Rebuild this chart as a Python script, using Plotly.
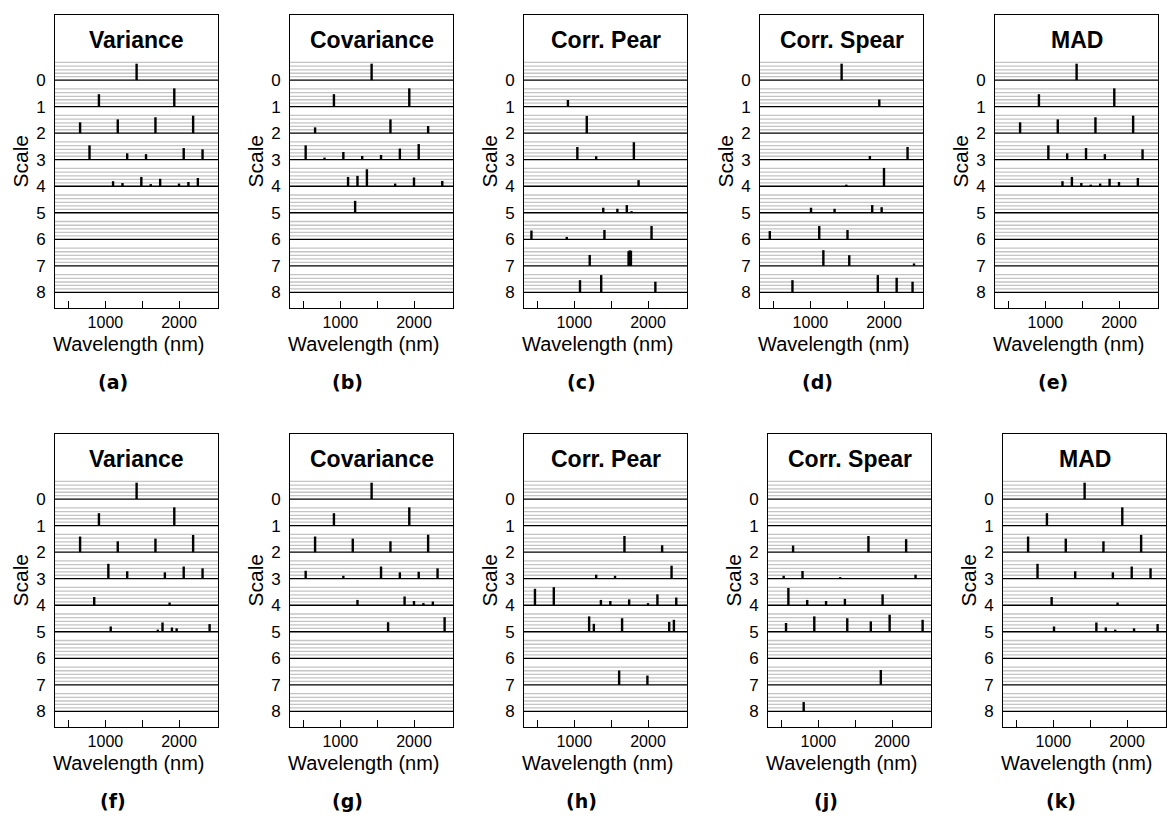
import plotly.graph_objects as go

# ---------------- data ----------------
TITLES = ["Variance", "Covariance", "Corr. Pear", "Corr. Spear", "MAD",
          "Variance", "Covariance", "Corr. Pear", "Corr. Spear", "MAD"]
CAPTIONS = ["(a)", "(b)", "(c)", "(d)", "(e)", "(f)", "(g)", "(h)", "(j)", "(k)"]
SCALE_TICKS = [0, 1, 2, 3, 4, 5, 6, 7, 8]
WL_TICKS = [500, 1000, 1500, 2000]
WL_TICKTEXT = ["", "1000", "", "2000"]

a_scale = [0, 1, 1, 2, 2, 2, 2, 3, 3, 3, 3, 3, 4, 4, 4, 4, 4, 4, 4, 4]
a_wl = [1424, 912, 1936, 656, 1168, 1680, 2192, 784, 1296, 1552, 2064, 2320,
        1104, 1232, 1488, 1616, 1744, 2000, 2128, 2256]
a_h = [0.62, 0.47, 0.69, 0.41, 0.52, 0.6, 0.66, 0.54, 0.24, 0.21, 0.44, 0.39,
       0.19, 0.12, 0.35, 0.08, 0.28, 0.1, 0.16, 0.31]

b_scale = [0, 1, 1, 2, 2, 2, 3, 3, 3, 3, 3, 3, 3, 4, 4, 4, 4, 4, 4, 5]
b_wl = [1424, 912, 1936, 656, 1680, 2192, 528, 784, 1040, 1296, 1552, 1808, 2064,
        1104, 1232, 1360, 1744, 2000, 2384, 1200]
b_h = [0.62, 0.47, 0.69, 0.22, 0.52, 0.27, 0.54, 0.08, 0.29, 0.14, 0.18, 0.42, 0.59,
       0.35, 0.39, 0.64, 0.1, 0.33, 0.2, 0.45]

c_scale = [1, 2, 3, 3, 3, 4, 5, 5, 5, 5, 6, 6, 6, 6, 7, 7, 7, 7, 8, 8, 8]
c_wl = [912, 1168, 1040, 1296, 1808, 1872, 1392, 1584, 1712, 1776, 416, 896, 1408, 2048,
        1208, 1736, 1752, 1768, 1076, 1364, 2100]
c_h = [0.25, 0.65, 0.48, 0.13, 0.66, 0.23, 0.19, 0.15, 0.29, 0.06, 0.33, 0.09, 0.35, 0.5,
       0.41, 0.55, 0.58, 0.57, 0.46, 0.65, 0.4]

d_scale = [0, 1, 3, 3, 4, 4, 5, 5, 5, 5, 6, 6, 6, 7, 7, 7, 8, 8, 8, 8]
d_wl = [1424, 1936, 1808, 2320, 1488, 2000, 1008, 1328, 1840, 1968, 448, 1120, 1504,
        1176, 1528, 2408, 756, 1916, 2172, 2388]
d_h = [0.62, 0.27, 0.14, 0.48, 0.06, 0.69, 0.19, 0.15, 0.29, 0.21, 0.31, 0.5, 0.35,
       0.59, 0.4, 0.09, 0.46, 0.65, 0.55, 0.4]

e_scale = [0, 1, 1, 2, 2, 2, 2, 3, 3, 3, 3, 3, 4, 4, 4, 4, 4, 4, 4, 4]
e_wl = [1424, 912, 1936, 656, 1168, 1680, 2192, 1040, 1296, 1552, 1808, 2320,
        1232, 1360, 1488, 1616, 1744, 1872, 2000, 2256]
e_h = [0.62, 0.47, 0.69, 0.41, 0.52, 0.6, 0.66, 0.54, 0.24, 0.44, 0.21, 0.39,
       0.19, 0.35, 0.12, 0.06, 0.1, 0.28, 0.16, 0.31]

f_scale = [0, 1, 1, 2, 2, 2, 2, 3, 3, 3, 3, 3, 4, 4, 5, 5, 5, 5, 5, 5]
f_wl = [1424, 912, 1936, 656, 1168, 1680, 2192, 1040, 1296, 1808, 2064, 2320, 848, 1872,
        1072, 1712, 1776, 1904, 1968, 2416]
f_h = [0.62, 0.47, 0.69, 0.59, 0.41, 0.51, 0.65, 0.56, 0.28, 0.24, 0.46, 0.39, 0.31, 0.1,
       0.2, 0.08, 0.35, 0.16, 0.13, 0.29]

g_scale = [0, 1, 1, 2, 2, 2, 2, 3, 3, 3, 3, 3, 3, 4, 4, 4, 4, 4, 5, 5]
g_wl = [1424, 912, 1936, 656, 1168, 1680, 2192, 528, 1040, 1552, 1808, 2064, 2320,
        1232, 1872, 2000, 2128, 2256, 1648, 2416]
g_h = [0.62, 0.47, 0.69, 0.59, 0.51, 0.41, 0.66, 0.3, 0.11, 0.46, 0.24, 0.26, 0.39,
       0.2, 0.33, 0.16, 0.08, 0.14, 0.36, 0.55]

h_scale = [2, 2, 3, 3, 3, 4, 4, 4, 4, 4, 4, 4, 4, 5, 5, 5, 5, 5, 7, 7]
h_wl = [1680, 2192, 1296, 1552, 2320, 464, 720, 1360, 1488, 1744, 2000, 2128, 2384,
        1200, 1264, 1648, 2288, 2352, 1608, 1992]
h_h = [0.61, 0.26, 0.15, 0.11, 0.49, 0.62, 0.68, 0.2, 0.16, 0.22, 0.08, 0.41, 0.29,
       0.58, 0.3, 0.51, 0.37, 0.45, 0.54, 0.35]

j_scale = [2, 2, 2, 3, 3, 3, 3, 4, 4, 4, 4, 4, 5, 5, 5, 5, 5, 5, 7, 8]
j_wl = [656, 1680, 2192, 528, 784, 1296, 2320, 592, 848, 1104, 1360, 1872,
        560, 944, 1392, 1712, 1968, 2416, 1848, 800]
j_h = [0.25, 0.61, 0.49, 0.11, 0.29, 0.06, 0.15, 0.65, 0.2, 0.16, 0.24, 0.41,
       0.33, 0.58, 0.51, 0.39, 0.64, 0.45, 0.56, 0.35]

k_scale = [0, 1, 1, 2, 2, 2, 2, 3, 3, 3, 3, 3, 4, 4, 5, 5, 5, 5, 5, 5]
k_wl = [1424, 912, 1936, 656, 1168, 1680, 2192, 784, 1296, 1808, 2064, 2320, 976, 1872,
        1008, 1584, 1712, 1840, 2096, 2416]
k_h = [0.62, 0.47, 0.69, 0.59, 0.51, 0.41, 0.65, 0.56, 0.28, 0.24, 0.46, 0.39, 0.31, 0.1,
       0.2, 0.35, 0.16, 0.08, 0.13, 0.29]

PANELS = [(a_scale, a_wl, a_h), (b_scale, b_wl, b_h), (c_scale, c_wl, c_h),
          (d_scale, d_wl, d_h), (e_scale, e_wl, e_h), (f_scale, f_wl, f_h),
          (g_scale, g_wl, g_h), (h_scale, h_wl, h_h), (j_scale, j_wl, j_h),
          (k_scale, k_wl, k_h)]

# ---------------- layout constants ----------------
W, H = 1167, 825
LEFTS = [55, 290, 524, 760, 995, 55, 290, 524, 768, 1003]
PW = 163
TOPS = [15, 434]
BOTS = [308, 727]
XRANGE = [315, 2530]
YRANGE = [8.59, -2.455]
GRAY_FRAC = [0.33, 0.47, 0.61, 0.74, 0.87]
FONT = "Liberation Sans, Arial, sans-serif"

fig = go.Figure()
layout = dict(width=W, height=H, margin=dict(l=0, r=0, t=0, b=0),
              paper_bgcolor="white", plot_bgcolor="white", showlegend=False)
shapes = []
annotations = []

for i, (sc, wl, hh) in enumerate(PANELS):
    n = i + 1
    row = 0 if i < 5 else 1
    xs = "" if n == 1 else str(n)
    left = LEFTS[i]
    right = left + PW
    top, bot = TOPS[row], BOTS[row]
    xd = [left / W, right / W]
    yd = [1 - bot / H, 1 - top / H]

    layout["xaxis" + xs] = dict(
        domain=xd, range=XRANGE, anchor="y" + xs, showgrid=False, zeroline=False,
        tickmode="array", tickvals=WL_TICKS, ticktext=WL_TICKTEXT,
        ticks="inside", ticklen=7, tickwidth=1, tickcolor="black",
        showline=True, mirror=True, linecolor="black", linewidth=1,
        tickfont=dict(family=FONT, size=16, color="black"))
    layout["yaxis" + xs] = dict(
        domain=yd, range=YRANGE, anchor="x" + xs, showgrid=False, zeroline=False,
        tickmode="array", tickvals=SCALE_TICKS,
        ticks="outside", ticklen=5, tickcolor="rgba(0,0,0,0)",
        showline=True, mirror=True, linecolor="black", linewidth=1,
        tickfont=dict(family=FONT, size=17, color="black"))

    xref = "x" + xs + " domain"
    yref = "y" + xs
    for j in SCALE_TICKS:
        for f in GRAY_FRAC:
            shapes.append(dict(type="line", xref=xref, yref=yref, x0=0, x1=1,
                               y0=j - 1 + f, y1=j - 1 + f, layer="below",
                               line=dict(color="#c4c4c4", width=1.3)))
        shapes.append(dict(type="line", xref=xref, yref=yref, x0=0, x1=1,
                           y0=j, y1=j, layer="below",
                           line=dict(color="black", width=1.3)))

    bx, by = [], []
    for s, w, v in zip(sc, wl, hh):
        bx += [w, w, None]
        by += [s, s - v, None]
    fig.add_trace(go.Scatter(x=bx, y=by, mode="lines", xaxis="x" + xs, yaxis="y" + xs,
                             line=dict(color="black", width=2.4), hoverinfo="skip"))

    cx = (left + right) / 2
    annotations.append(dict(text="<b>" + TITLES[i] + "</b>", xref="paper", yref="paper",
                            x=cx / W, y=1 - (top + 25) / H, showarrow=False,
                            xanchor="center", yanchor="middle",
                            font=dict(family=FONT, size=23, color="black")))
    annotations.append(dict(text="Scale", xref="paper", yref="paper",
                            x=(left - 35) / W, y=1 - (top + bot) / 2 / H, showarrow=False,
                            textangle=-90, xanchor="center", yanchor="middle",
                            font=dict(family=FONT, size=21, color="black")))
    annotations.append(dict(text="Wavelength (nm)", xref="paper", yref="paper",
                            x=(cx - 8) / W, y=1 - (bot + 36) / H, showarrow=False,
                            xanchor="center", yanchor="middle",
                            font=dict(family=FONT, size=20, color="black")))
    annotations.append(dict(text="<b>" + CAPTIONS[i] + "</b>", xref="paper", yref="paper",
                            x=(cx - 24) / W, y=1 - (bot + 74) / H, showarrow=False,
                            xanchor="center", yanchor="middle",
                            font=dict(family="DejaVu Sans, sans-serif", size=19, color="black")))

layout["shapes"] = shapes
layout["annotations"] = annotations
fig.update_layout(**layout)
fig.write_html("out.html")
